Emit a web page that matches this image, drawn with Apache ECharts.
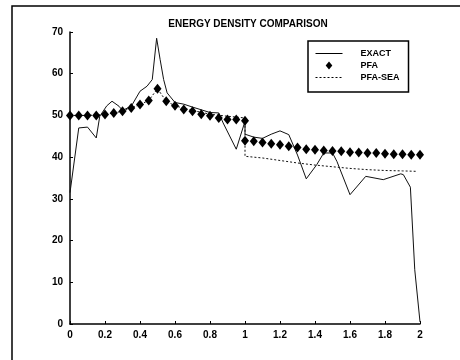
<!DOCTYPE html>
<html>
<head>
<meta charset="utf-8">
<script src="https://cdn.jsdelivr.net/npm/echarts@6/dist/echarts.min.js"></script>
<style>html,body{margin:0;padding:0;background:#fff}#c{width:460px;height:360px}</style>
</head>
<body>
<div id="c"></div>
<script>
var titleText = 'ENERGY DENSITY COMPARISON';
var seriesNames = ['EXACT', 'PFA', 'PFA-SEA'];

var exactX = [0,0.05,0.1,0.15,0.17,0.21,0.24,0.28,0.3,0.35,0.4,0.44,0.47,0.495,0.515,0.535,0.555,0.6,0.65,0.7,0.8,0.85,0.875,0.95,1.0,1.0,1.05,1.1,1.15,1.2,1.25,1.3,1.35,1.41,1.45,1.5,1.525,1.6,1.69,1.79,1.89,1.905,1.945,1.97,2.0];
var exactY = [31.5,47,47.2,44.6,49.8,52.3,53.4,52.2,51.2,52.2,55.8,57,58.6,68.5,63.4,58.6,55.4,53.1,52.7,52,50.7,50.6,48.2,41.9,48.6,45.5,44.8,44.5,45.5,46.3,45.4,40.5,34.8,38.2,41,41,39,31,35.4,34.6,36,35.8,32.8,13,0.5];

var pfaX = [0,0.05,0.1,0.15,0.2,0.25,0.3,0.35,0.4,0.45,0.5,0.55,0.6,0.65,0.7,0.75,0.8,0.85,0.9,0.95,1.0,
            1.0,1.05,1.1,1.15,1.2,1.25,1.3,1.35,1.4,1.45,1.5,1.55,1.6,1.65,1.7,1.75,1.8,1.85,1.9,1.95,2.0];
var pfaY = [50,50,50,50,50.2,50.6,51,51.8,52.6,53.6,56.4,53.4,52.3,51.4,51,50.3,49.9,49.4,49,49,48.7,
            43.9,43.8,43.5,43.2,43,42.6,42.3,41.9,41.8,41.6,41.5,41.4,41.2,41.1,41,41,40.8,40.7,40.7,40.6,40.6];

var seaX = [0,0.1,0.2,0.25,0.3,0.35,0.4,0.45,0.5,0.55,0.6,0.7,0.8,0.9,1.0,1.0,1.1,1.2,1.3,1.4,1.5,1.6,1.7,1.8,1.9,1.98];
var seaY = [50,50,50.2,50.6,51,51.8,52.6,53.6,56.4,53.4,52.3,51.2,50.3,49.8,49.4,40.2,39.8,39.2,38.6,38.1,37.7,37.3,37.0,36.8,36.7,36.6];

var xTicks = {min: 0, max: 2, interval: 0.2};
var yTicks = {min: 0, max: 70, interval: 10};

function pairs(xs, ys) { return xs.map(function (x, i) { return [x, ys[i]]; }); }

var font = 'Liberation Sans';
var diamondIcon = 'path://M5,0L10,6L5,12L0,6Z';
var chart = echarts.init(document.getElementById('c'), null, {renderer: 'canvas'});
chart.setOption({
  animation: false,
  backgroundColor: '#fff',
  title: {
    text: titleText, left: 243, top: 14, textAlign: 'center',
    textStyle: {fontFamily: font, fontWeight: 'bold', fontSize: 10, color: '#000'}
  },
  grid: {left: 70, right: 40, top: 32, bottom: 36},
  legend: {
    orient: 'vertical', left: 308, top: 41,
    padding: [8, 9, 10, 7], itemGap: 3, itemWidth: 27, itemHeight: 8,
    symbolKeepAspect: true,
    borderColor: '#000', borderWidth: 1.5, backgroundColor: '#fff',
    textStyle: {fontFamily: font, fontWeight: 'bold', fontSize: 9, color: '#000', padding: [0, 0, 0, 13]},
    data: [
      {name: seriesNames[0], itemStyle: {opacity: 0}, lineStyle: {width: 1, color: '#000'}},
      {name: seriesNames[1], icon: diamondIcon, itemStyle: {color: '#000', opacity: 1}},
      {name: seriesNames[2], itemStyle: {opacity: 0}, lineStyle: {width: 1, color: '#000', type: [2, 2]}}
    ]
  },
  xAxis: {
    type: 'value', min: xTicks.min, max: xTicks.max, interval: xTicks.interval,
    axisLine: {lineStyle: {color: '#000', width: 1.5}},
    axisTick: {inside: true, length: 3, lineStyle: {color: '#000'}},
    splitLine: {show: false},
    axisLabel: {fontFamily: font, fontWeight: 'bold', fontSize: 10, color: '#000', margin: 6}
  },
  yAxis: {
    type: 'value', min: yTicks.min, max: yTicks.max, interval: yTicks.interval,
    axisLine: {show: true, lineStyle: {color: '#000', width: 1.5}},
    axisTick: {show: true, inside: true, length: 3, lineStyle: {color: '#000'}},
    splitLine: {show: false},
    axisLabel: {fontFamily: font, fontWeight: 'bold', fontSize: 10, color: '#000', margin: 7}
  },
  graphic: [{
    type: 'polyline', silent: true,
    shape: {points: [[12, 360], [12, 6], [460, 6]]},
    style: {stroke: '#000', lineWidth: 1.5, fill: null}
  }],
  series: [
    {
      name: seriesNames[0], type: 'line', data: pairs(exactX, exactY),
      symbol: 'none', showSymbol: false,
      lineStyle: {color: '#111', width: 1}, itemStyle: {color: '#111'}, z: 3
    },
    {
      name: seriesNames[1], type: 'scatter', data: pairs(pfaX, pfaY),
      symbol: 'diamond', symbolSize: [8, 10],
      itemStyle: {color: '#000', opacity: 1}, z: 4
    },
    {
      name: seriesNames[2], type: 'line', data: pairs(seaX, seaY),
      symbol: 'none', showSymbol: false,
      lineStyle: {color: '#111', width: 1, type: [2, 2]}, itemStyle: {color: '#111'}, z: 2
    }
  ]
});
</script>
</body>
</html>
